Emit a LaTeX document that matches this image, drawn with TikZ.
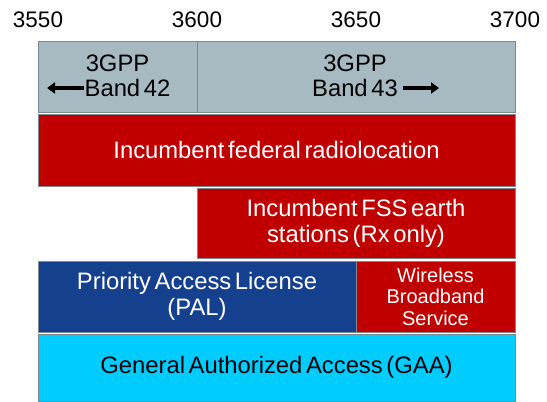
\documentclass[tikz,border=0pt]{standalone}
\usepackage{fontspec}
\setmainfont{Liberation Sans}[WordSpace=0.55]
\usetikzlibrary{arrows.meta}
\definecolor{bandgray}{HTML}{A8BAC1}
\definecolor{incred}{HTML}{C00000}
\definecolor{palblue}{HTML}{15408E}
\definecolor{gaacyan}{HTML}{00CCFF}
\definecolor{edgegray}{HTML}{7F8A90}
\tikzset{
  box/.style={draw=edgegray, line width=0.9pt, inner sep=0pt, align=center, anchor=center},
  bigfont/.style={font=\fontsize{23.8}{26}\selectfont},
  bigtxt/.style={bigfont, align=center, inner sep=0pt},
  freq/.style={font=\fontsize{22.5}{26}\selectfont, inner sep=0pt},
  bandarrow/.style={line width=3.3pt, -{Triangle[length=8pt,width=11pt]}},
}
\begin{document}
\begin{tikzpicture}[x=1pt,y=-1pt]
\useasboundingbox (0,0) rectangle (547,402);
% frequency labels
\node[freq] (f3550) at (38,20) {3550};
\node[freq] (f3600) at (197,20) {3600};
\node[freq] (f3650) at (356,20) {3650};
\node[freq] (f3700) at (515,20) {3700};
% 3GPP bands
\node[box, fill=bandgray, minimum width=159pt, minimum height=71pt] (g42) at (117.5,76.5) {};
\node[box, fill=bandgray, minimum width=318pt, minimum height=71pt] (g43) at (356,76.5) {};
\node[bigtxt] (t42) at (117.5,63) {3GPP};
\node[bigtxt] (b42) at (127.5,88) {Band 42};
\node[bigtxt] (t43) at (355,63) {3GPP};
\node[bigtxt] (b43) at (355,88) {Band 43};
\coordinate (a42) at (47,88);
\coordinate (a43) at (439,88);
\draw[bandarrow] ([xshift=0pt]b42.west) -- (a42);
\draw[bandarrow] ([xshift=5pt]b43.east) -- (a43);
% incumbents
\node[box, fill=incred, text=white, minimum width=477pt, minimum height=72pt, bigfont] (fed) at (276.5,150) {Incumbent federal radiolocation};
\node[box, fill=incred, text=white, minimum width=318pt, minimum height=70pt, bigfont] (fss) at (356,223) {Incumbent FSS earth\\stations (Rx only)};
% PAL / WBS
\node[box, fill=palblue, text=white, minimum width=318pt, minimum height=71pt, bigfont] (pal) at (197,296.5) {Priority Access License\\(PAL)};
\node[box, fill=incred, text=white, minimum width=159pt, minimum height=71pt, font=\fontsize{20}{21.5}\selectfont] (wbs) at (435.5,296.5) {Wireless\\Broadband\\Service};
% GAA
\node[box, fill=gaacyan, text=black, minimum width=477pt, minimum height=67pt, bigfont] (gaa) at (276.5,367.5) {General Authorized Access (GAA)};
\end{tikzpicture}
\end{document}
